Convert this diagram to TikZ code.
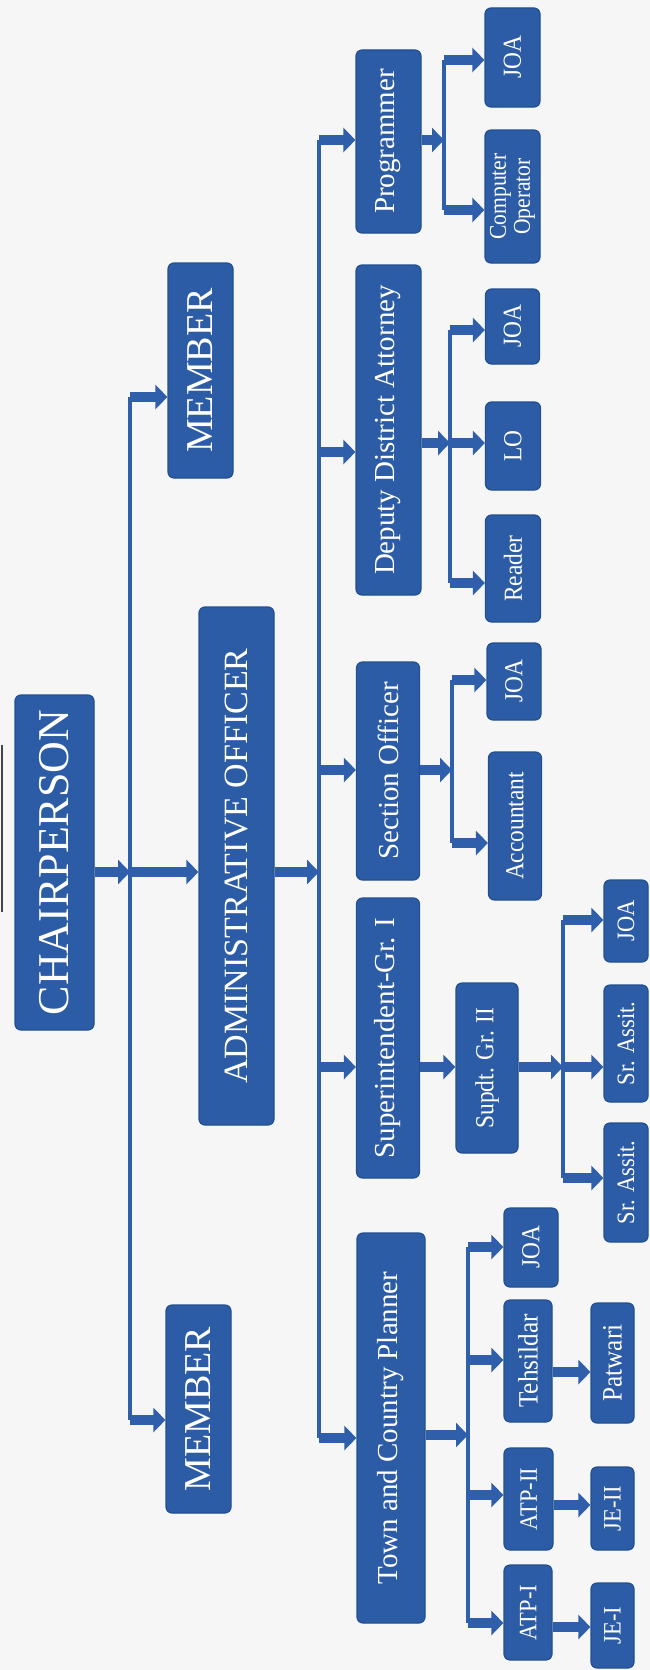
\documentclass[tikz,border=0pt]{standalone}
\usepackage{fontspec}
\setmainfont{Liberation Serif}
\newfontfamily\cndfont[FakeStretch=0.9]{Liberation Serif}
\usetikzlibrary{arrows.meta}
\definecolor{boxblue}{HTML}{2D5CA6}
\definecolor{boxedge}{HTML}{22508E}
\definecolor{arrblue}{HTML}{2F5FAA}
\definecolor{bgcol}{HTML}{F6F6F6}
\begin{document}
\begin{tikzpicture}[x=1pt,y=-1pt,
  box/.style={rectangle, rounded corners=6pt, fill=boxblue, draw=boxedge, line width=1.2pt, text=white, rotate=90, inner sep=0pt, align=center},
  arr/.style={draw=arrblue, line width=10pt, -{Triangle[width=24pt,length=12pt]}},
  bus/.style={draw=arrblue, line width=4pt},
  fA/.style={font=\fontsize{44}{48}\selectfont},
  fM/.style={font=\fontsize{38}{40}\selectfont},
  fB/.style={font=\fontsize{34}{36}\selectfont},
  fC/.style={font=\fontsize{29}{31}\selectfont},
  fD/.style={font=\cndfont\fontsize{26}{27}\selectfont},
  fE/.style={font=\cndfont\fontsize{25}{26}\selectfont},
  fF/.style={font=\cndfont\fontsize{28}{29}\selectfont}
]
\fill[bgcol] (0,0) rectangle (650,1670);
\useasboundingbox (0,0) rectangle (650,1670);
\draw[gray!55!black, line width=2pt] (2,745) -- (2,912);

% level 1-2
\node[box, fA, minimum width=335pt, minimum height=79pt] (chair) at (54.5,862.5) {CHAIRPERSON};
\node[box, fM, minimum width=215pt, minimum height=65pt] (memT) at (200.5,370.5) {MEMBER};
\node[box, fM, minimum width=208pt, minimum height=65pt] (memB) at (198.5,1409) {MEMBER};
\node[box, fB, minimum width=518pt, minimum height=75pt] (admin) at (236.5,866) {ADMINISTRATIVE OFFICER};

% level 3
\node[box, fC, minimum width=183pt, minimum height=65pt] (prog) at (388.5,141.5) {Programmer};
\node[box, fC, minimum width=330pt, minimum height=65pt] (dda) at (388.5,430) {Deputy District Attorney};
\node[box, fC, minimum width=218pt, minimum height=63pt] (so) at (388,771) {Section Officer};
\node[box, fC, minimum width=280pt, minimum height=63pt] (supt) at (388,1038) {Superintendent-Gr. I};
\node[box, fC, minimum width=390pt, minimum height=68pt] (tcp) at (391,1428) {Town and Country Planner};

% level 4
\node[box, fD, minimum width=99pt, minimum height=55pt] (joaP) at (512.5,57.5) {JOA};
\node[box, font=\cndfont\fontsize{24}{24}\selectfont, minimum width=133pt, minimum height=55pt] (comp) at (512.5,196.5) {Computer\\Operator};
\node[box, fD, minimum width=75pt, minimum height=54pt] (joaD) at (512.5,326.5) {JOA};
\node[box, fD, minimum width=88pt, minimum height=55pt] (lo) at (513,446) {LO};
\node[box, fD, minimum width=107pt, minimum height=55pt] (reader) at (513,568.5) {Reader};
\node[box, fD, minimum width=77pt, minimum height=54pt] (joaS) at (514,681.5) {JOA};
\node[box, fD, minimum width=148pt, minimum height=53pt] (acct) at (515,826) {Accountant};
\node[box, fD, minimum width=170pt, minimum height=62pt] (supdt) at (487,1068) {Supdt. Gr. II};
\node[box, fE, minimum width=82pt, minimum height=44pt] (joaU) at (626,921) {JOA};
\node[box, fE, minimum width=117pt, minimum height=44pt] (sr1) at (626,1043.5) {Sr. Assit.};
\node[box, fE, minimum width=119pt, minimum height=44pt] (sr2) at (626,1182.5) {Sr. Assit.};
\node[box, fD, minimum width=79pt, minimum height=54pt] (joaT) at (531,1247.5) {JOA};
\node[box, fF, minimum width=122pt, minimum height=48pt] (teh) at (528,1361) {Tehsildar};
\node[box, fE, minimum width=102pt, minimum height=49pt] (atp2) at (528.5,1499) {ATP-II};
\node[box, fE, minimum width=95pt, minimum height=48pt] (atp1) at (528,1612.5) {ATP-I};
\node[box, fF, minimum width=120pt, minimum height=43pt] (pat) at (612.5,1363) {Patwari};
\node[box, fE, minimum width=83pt, minimum height=43pt] (je2) at (612.5,1508.5) {JE-II};
\node[box, fE, minimum width=85pt, minimum height=43pt] (je1) at (612.5,1625.5) {JE-I};

% trunk 1
\coordinate (t1a) at (130,397);
\coordinate (t1b) at (130,1420);
\coordinate (t1c) at (130,872);
\draw[bus] (t1a) -- (t1b);
\draw[arr] (chair.south |- t1c) -- (t1c);
\draw[arr] (t1c) -- (admin.north |- t1c);
\draw[arr] (t1a) -- (memT.north |- t1a);
\draw[arr] (t1b) -- (memB.north |- t1b);

% trunk 2
\coordinate (t2a) at (319,140);
\coordinate (t2b) at (319,1438);
\coordinate (t2c) at (319,872);
\coordinate (t2d) at (319,452);
\coordinate (t2e) at (319,770);
\coordinate (t2f) at (319,1067);
\draw[bus] (t2a) -- (t2b);
\draw[arr] (admin.south |- t2c) -- (t2c);
\draw[arr] (t2a) -- (prog.north |- t2a);
\draw[arr] (t2d) -- (dda.north |- t2d);
\draw[arr] (t2e) -- (so.north |- t2e);
\draw[arr] (t2f) -- (supt.north |- t2f);
\draw[arr] (t2b) -- (tcp.north |- t2b);

% programmer
\coordinate (bP1) at (444,60);
\coordinate (bP2) at (444,140);
\coordinate (bP3) at (444,210);
\draw[bus] (bP1) -- (bP3);
\draw[arr] (prog.south |- bP2) -- (bP2);
\draw[arr] (bP1) -- (joaP.north |- bP1);
\draw[arr] (bP3) -- (comp.north |- bP3);

% DDA
\coordinate (bD1) at (450,330);
\coordinate (bD2) at (450,443);
\coordinate (bD3) at (450,583);
\draw[bus] (bD1) -- (bD3);
\draw[arr] (dda.south |- bD2) -- (bD2);
\draw[arr] (bD1) -- (joaD.north |- bD1);
\draw[arr] (bD2) -- (lo.north |- bD2);
\draw[arr] (bD3) -- (reader.north |- bD3);

% Section officer
\coordinate (bS1) at (452,680);
\coordinate (bS2) at (452,770);
\coordinate (bS3) at (452,843);
\draw[bus] (bS1) -- (bS3);
\draw[arr] (so.south |- bS2) -- (bS2);
\draw[arr] (bS1) -- (joaS.north |- bS1);
\draw[arr] (bS3) -- (acct.north |- bS3);

% Superintendent
\draw[arr] (supt.south |- t2f) -- (supdt.north |- t2f);
\coordinate (bU1) at (563,920);
\coordinate (bU2) at (563,1067);
\coordinate (bU3) at (563,1178);
\draw[bus] (bU1) -- (bU3);
\draw[arr] (supdt.south |- bU2) -- (bU2);
\draw[arr] (bU1) -- (joaU.north |- bU1);
\draw[arr] (bU2) -- (sr1.north |- bU2);
\draw[arr] (bU3) -- (sr2.north |- bU3);

% Town and Country Planner
\coordinate (bT1) at (468,1247);
\coordinate (bT2) at (468,1435);
\coordinate (bT3) at (468,1623);
\coordinate (bTt) at (468,1360);
\coordinate (bTa) at (468,1495);
\draw[bus] (bT1) -- (bT3);
\draw[arr] (tcp.south |- bT2) -- (bT2);
\draw[arr] (bT1) -- (joaT.north |- bT1);
\draw[arr] (bTt) -- (teh.north |- bTt);
\draw[arr] (bTa) -- (atp2.north |- bTa);
\draw[arr] (bT3) -- (atp1.north |- bT3);
\draw[arr] (teh.south |- 0,1372) -- (pat.north |- 0,1372);
\draw[arr] (atp2.south |- 0,1505) -- (je2.north |- 0,1505);
\draw[arr] (atp1.south |- 0,1627) -- (je1.north |- 0,1627);
\end{tikzpicture}
\end{document}
